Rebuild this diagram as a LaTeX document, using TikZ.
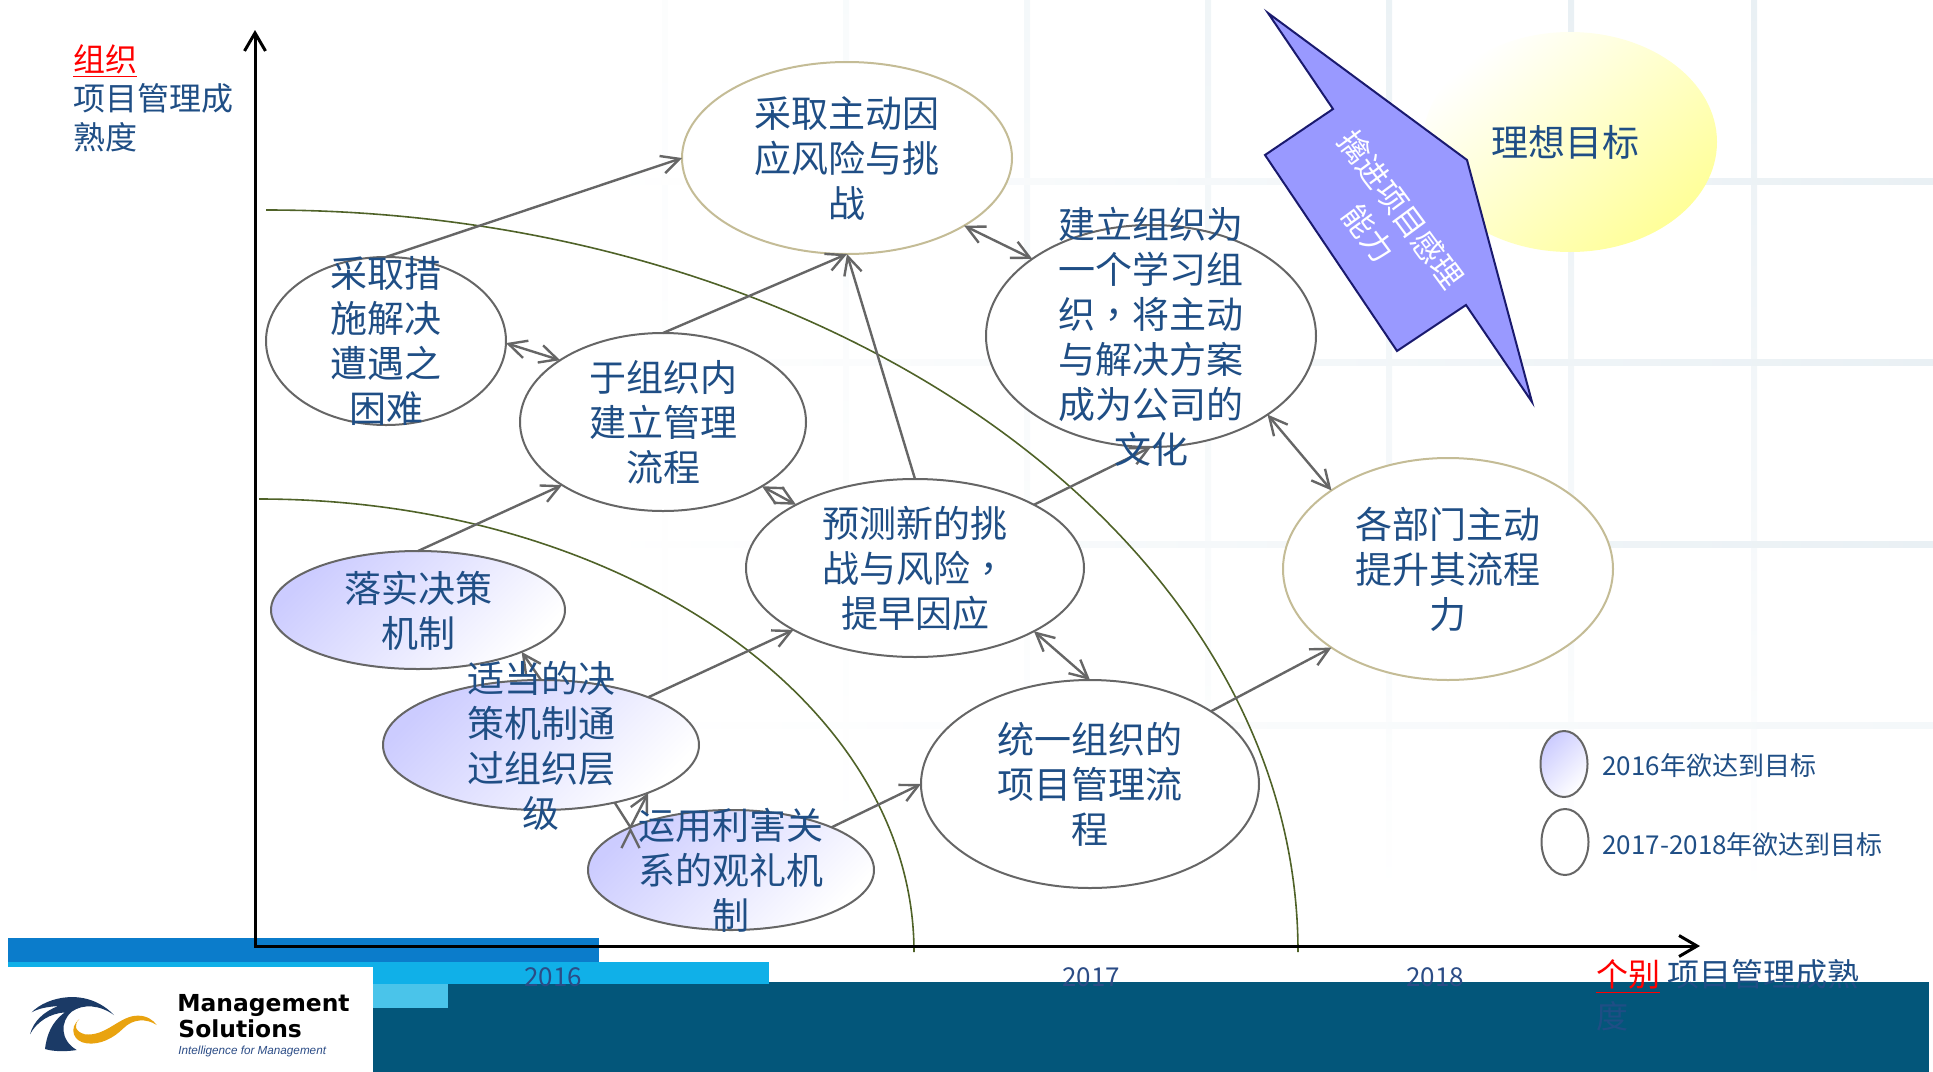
\documentclass[tikz,border=0pt]{standalone}
\usepackage{fontspec}
\setmainfont{Noto Sans CJK SC}
\newfontfamily\tcfont{Noto Sans CJK TC}
\newfontfamily\logofont{DejaVu Sans}
\newfontfamily\tagfont{Liberation Sans}
\usetikzlibrary{arrows.meta,shapes.geometric}
\definecolor{inkblue}{HTML}{1F4E85}
\definecolor{yearblue}{HTML}{2B4C86}
\definecolor{gridline}{HTML}{E9F0F4}
\definecolor{arcgreen}{HTML}{4F6228}
\definecolor{linkgrey}{HTML}{666666}
\definecolor{tanline}{HTML}{C4BC96}
\definecolor{lavender}{HTML}{CCCCFF}
\definecolor{paleyellow}{HTML}{FFFF99}
\definecolor{pushblue}{HTML}{9999FF}
\definecolor{pushline}{HTML}{1A1A6E}
\definecolor{barblue}{HTML}{0B7CCB}
\definecolor{barcyan}{HTML}{10B0E8}
\definecolor{barlight}{HTML}{4AC4EA}
\definecolor{bardark}{HTML}{03567A}
\definecolor{logonavy}{HTML}{1B3A66}
\definecolor{logogold}{HTML}{E9A30F}
\tikzstyle{goal}=[ellipse,draw=linkgrey,fill=white,line width=1pt,inner sep=0pt,outer sep=0pt]
\tikzstyle{goaltan}=[goal,draw=tanline]
\tikzstyle{goalsoon}=[goal,top color=lavender,bottom color=white,shading angle=45]
\tikzstyle{txt}=[text=inkblue,align=center,font=\fontsize{18.5}{22.5}\selectfont,inner sep=0pt,yshift=-0.2pt]
\tikzstyle{small}=[text=inkblue,anchor=west,inner sep=0pt,font=\fontsize{13}{16}\selectfont]
\tikzstyle{year}=[text=yearblue,inner sep=0pt,font=\fontsize{13}{15}\selectfont]
\tikzstyle{axlabel}=[text=inkblue,align=left,inner sep=0pt,anchor=north west]
\begin{document}
\begin{tikzpicture}[x=0.5pt,y=-0.5pt]
\useasboundingbox (0,0) rectangle (1933,1071);
\foreach \x/\o in {665/15,846/30,1027/50,1208/70,1389/90,1571/100,1754/100}
  \shade[top color=gridline!\o!white,bottom color=white] (\x-3,0) rectangle (\x+3,900);
\foreach \y/\o in {181/100,362/100,544/100,725/50}
  \shade[left color=white,right color=gridline!\o!white] (600,\y-3) rectangle (1933,\y+3);
% bars at the bottom
\fill[barblue] (8,938) rectangle (599,962);
\fill[bardark] (373,982) rectangle (1929,1075);
\fill[barcyan] (8,962) rectangle (769,984);
\fill[barlight] (373,984) rectangle (448,1008);
\fill[white] (0,967) rectangle (373,1071);
% logo
\begin{scope}[x=0.16667pt,y=-0.16667pt,shift={(5pt,-487.5pt)}]
\fill[logonavy] (65,112) .. controls (110,65) and (230,35) .. (312,120)
  .. controls (270,90) and (220,85) .. (185,110)
  .. controls (150,140) and (150,195) .. (200,225)
  .. controls (170,230) and (130,230) .. (105,222)
  .. controls (110,180) and (125,140) .. (165,112)
  .. controls (120,115) and (80,140) .. (60,178)
  .. controls (70,140) and (100,110) .. (145,93)
  .. controls (115,95) and (85,100) .. (65,112) -- cycle;
\fill[logogold] (208,132) .. controls (190,150) and (195,170) .. (225,178)
  .. controls (290,185) and (330,120) .. (385,122)
  .. controls (410,122) and (430,135) .. (440,150)
  .. controls (410,130) and (370,130) .. (340,160)
  .. controls (310,190) and (270,210) .. (230,205)
  .. controls (190,200) and (175,160) .. (208,132) -- cycle;
\end{scope}
\node[anchor=west,inner sep=0pt,font=\logofont\bfseries\fontsize{11.7}{12}\selectfont] (Mgmt) at (177,1005) {Management};
\node[anchor=west,inner sep=0pt,font=\logofont\bfseries\fontsize{11.7}{12}\selectfont] (Sol) at (178,1029) {Solutions};
\node[anchor=west,inner sep=0pt,text=yearblue,font=\tagfont\itshape\fontsize{5.85}{6}\selectfont] (Tag) at (178,1051) {Intelligence for Management};
% arcs
\coordinate (ArcA) at (259,499);
\coordinate (ArcB) at (266,210);
\draw[arcgreen,line width=0.8pt] (ArcA) arc[start angle=90,end angle=0,x radius=327.5pt,y radius=226.5pt];
\draw[arcgreen,line width=0.8pt] (ArcB) arc[start angle=90,end angle=0,x radius=516pt,y radius=371pt];
% axes
\coordinate (O) at (255,946);
\coordinate (Y) at (255,30);
\coordinate (X) at (1700,946);
\draw[{Straight Barb[length=9pt,width=10.5pt]}-{Straight Barb[length=9pt,width=10.5pt]},line width=1.5pt] (Y) -- (O) -- (X);
% ideal goal and the push arrow
\node[ellipse,inner sep=0pt,minimum width=147pt,minimum height=110pt,top color=white,bottom color=paleyellow,shading angle=40] (Ideal) at (1570,142) {};
\draw[fill=pushblue,draw=pushline,line width=1pt] (1268,13) -- (1467,160) -- (1532,402) -- (1466,305) -- (1397,351) -- (1265,155) -- (1333,109) -- cycle;
% goals
\node[goaltan,minimum width=165pt,minimum height=96pt] (Risk) at (847,158) {};
\node[goal,minimum width=120pt,minimum height=84pt] (Act) at (386,341) {};
\node[goal,minimum width=143pt,minimum height=89pt] (Build) at (663,422) {};
\node[goal,minimum width=165pt,minimum height=111pt] (Learn) at (1151,336) {};
\node[goal,minimum width=169pt,minimum height=89pt] (Pred) at (915,568) {};
\node[goaltan,minimum width=165pt,minimum height=111pt] (Dept) at (1448,569) {};
\node[goalsoon,minimum width=147pt,minimum height=59pt] (Dec) at (418,610) {};
\node[goalsoon,minimum width=158pt,minimum height=65pt] (Fit) at (541,745) {};
\node[goalsoon,minimum width=143pt,minimum height=60pt] (Stk) at (731,870) {};
\node[goal,minimum width=169pt,minimum height=104pt] (Unify) at (1090,784) {};
% legend
\node[goalsoon,minimum width=23.5pt,minimum height=33pt] (KeyA) at (1564,764) {};
\node[goal,minimum width=23.5pt,minimum height=33pt] (KeyB) at (1565,842) {};
\path[->,draw=linkgrey,line width=1.2pt,>={Straight Barb[length=9pt,width=9pt]}]
(Act.north) edge (Risk.west)
(Act.-1) edge[<->] (Build.149)
(Build.north) edge (Risk.south)
(Dec.north) edge (Build.212)
(Pred.north) edge (Risk.south)
(Risk.-30) edge[<->] (Learn.147)
(Pred.28) edge (Learn.south)
(Learn.-34) edge[<->] (Dept.146)
(Build.-33) edge[<->] (Pred.152)
(Pred.-28) edge[<->] (Unify.north)
(Unify.31) edge (Dept.214)
(Fit.24) edge (Pred.207)
(Stk.23) edge (Unify.west)
(Fit.north) edge (Dec.-22)
(Stk.157) edge (Fit.-24)
(Stk.157) edge[-] (Fit.-38);
% texts
\node[txt] (tRisk) at (Risk) {采取主动因\\应风险与挑\\战};
\node[txt] (tAct) at (Act) {采取措\\施解决\\遭遇之\\困难};
\node[txt] (tBuild) at (Build) {于组织内\\建立管理\\流程};
\node[txt] (tLearn) at (Learn) {建立组织为\\一个学习组\\织{\tcfont ，}将主动\\与解决方案\\成为公司的\\文化};
\node[txt] (tPred) at (Pred) {预测新的挑\\战与风险{\tcfont ，}\\提早因应};
\node[txt] (tDept) at (Dept) {各部门主动\\提升其流程\\力};
\node[txt] (tDec) at (Dec) {落实决策\\机制};
\node[txt] (tFit) at (Fit) {适当的决\\策机制通\\过组织层\\级};
\node[txt] (tStk) at (Stk) {运用利害关\\系的观礼机\\制};
\node[txt] (tUnify) at (Unify) {统一组织的\\项目管理流\\程};
\node[txt] (tIdeal) at (1565,142) {理想目标};
\node[txt,text=white,rotate=-53.6,font=\fontsize{15.5}{20}\selectfont] (tPush) at (1385,221) {擒进项目感理\\能力};
\node[small] (tKeyA) at (1602,766) {2016年欲达到目标};
\node[small] (tKeyB) at (1602,845) {2017-2018年欲达到目标};
\node[year] (tA) at (553,977) {2016};
\node[year] (tB) at (1091,977) {2017};
\node[year] (tC) at (1435,977) {2018};
\node[axlabel,font=\fontsize{16}{19.5}\selectfont] (tLevel) at (73,44) {{\color{red}\underline{组织}}\\项目管理成\\熟度};
\node[axlabel,font=\fontsize{16}{21}\selectfont] (tSelf) at (1596,959) {{\color{red}\underline{个别}} 项目管理成熟\\度};
\end{tikzpicture}
\end{document}
